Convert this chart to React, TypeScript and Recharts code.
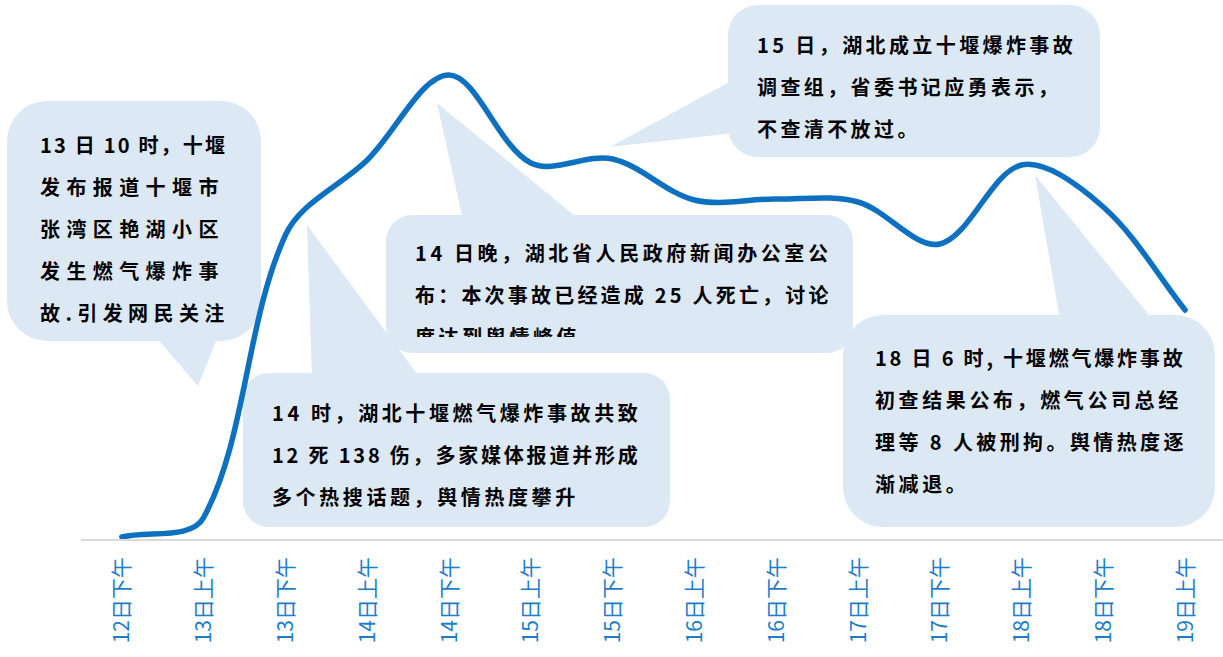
import React from 'react';
import { LineChart, Line, XAxis, YAxis } from 'recharts';

// 时间段（横轴）
const periods = [
  '12日下午', '13日上午', '13日下午', '14日上午', '14日下午', '15日上午', '15日下午',
  '16日上午', '16日下午', '17日上午', '17日下午', '18日上午', '18日下午', '19日上午',
];

// 舆情热度（估读）
const heat = [0.6, 4.5, 61, 76, 93, 75.4, 76.2, 68, 68.2, 67.6, 59.2, 75, 66.6, 46];

// 气泡文字
const noteA = ['13 日 10 时，十堰', '发布报道十堰市', '张湾区艳湖小区', '发生燃气爆炸事', '故.引发网民关注'];
const noteB = ['14 时，湖北十堰燃气爆炸事故共致', '12 死 138 伤，多家媒体报道并形成', '多个热搜话题，舆情热度攀升'];
const noteC = ['14 日晚，湖北省人民政府新闻办公室公', '布：本次事故已经造成 25 人死亡，讨论', '度达到舆情峰值'];
const noteD = ['15 日，湖北成立十堰爆炸事故', '调查组，省委书记应勇表示，', '不查清不放过。'];
const noteE = ['18 日 6 时, 十堰燃气爆炸事故', '初查结果公布，燃气公司总经', '理等 8 人被刑拘。舆情热度逐', '渐减退。'];

const data = periods.map((p, i) => ({ period: p, heat: heat[i] }));

const BUBBLE = '#DDE8F5';
const LINE = '#0E70C0';
const FONT = '"Noto Sans CJK SC", "Noto Sans", sans-serif';

const dist = (a: number[], b: number[]) => Math.hypot(b[0] - a[0], b[1] - a[1]);

// Excel 风格平滑曲线（按段长加权的 Bezier）
const smooth = (context: any) => {
  let pts: number[][] = [];
  return {
    areaStart() {},
    areaEnd() {},
    lineStart() {
      pts = [];
    },
    point(x: number, y: number) {
      pts.push([+x, +y]);
    },
    lineEnd() {
      if (!pts.length) return;
      context.moveTo(pts[0][0], pts[0][1]);
      for (let i = 0; i < pts.length - 1; i++) {
        const p0 = pts[i - 1] || pts[i];
        const p1 = pts[i];
        const p2 = pts[i + 1];
        const p3 = pts[i + 2] || p2;
        const d01 = dist(p0, p1);
        const d12 = dist(p1, p2);
        const d23 = dist(p2, p3);
        const f1 = d01 + d12 > 0 ? (2 * d12) / (d01 + d12) / 6 : 0;
        const f2 = d12 + d23 > 0 ? (2 * d12) / (d12 + d23) / 6 : 0;
        context.bezierCurveTo(
          p1[0] + (p2[0] - p0[0]) * f1,
          p1[1] + (p2[1] - p0[1]) * f1,
          p2[0] - (p3[0] - p1[0]) * f2,
          p2[1] - (p3[1] - p1[1]) * f2,
          p2[0],
          p2[1],
        );
      }
    },
  };
};

const Tick = ({ x, y, payload }: any) => (
  <g transform={`translate(${x},${y + 17}) rotate(-90)`}>
    <text x={0} y={0} dy="0.36em" textAnchor="end" fill="#1E7CCB" fontSize={21} fontFamily={FONT}>
      {payload.value}
    </text>
  </g>
);

const Bubble = ({ x, y, w, h, r, tail }: any) => (
  <g>
    <rect x={x} y={y} width={w} height={h} rx={r} ry={r} fill={BUBBLE} />
    <polygon points={tail} fill={BUBBLE} />
  </g>
);

const Note = ({ lines, left, top, spacing = 3.6, clip }: any) => (
  <div
    style={{
      position: 'absolute',
      left,
      top,
      height: clip,
      overflow: clip ? 'hidden' : 'visible',
      fontFamily: FONT,
      fontWeight: 700,
      fontSize: 20,
      lineHeight: '42px',
      color: '#000',
      whiteSpace: 'pre',
    }}
  >
    {lines.map((l: string, i: number) => (
      <div key={l} style={{ letterSpacing: Array.isArray(spacing) ? spacing[i] : spacing }}>
        {l}
      </div>
    ))}
  </div>
);

export default function App() {
  return (
    <div style={{ position: 'absolute', left: 0, top: 0, width: 1223, height: 657, overflow: 'hidden', background: '#fff' }}>
      <svg width={1223} height={657} style={{ position: 'absolute', left: 0, top: 0 }}>
        <Bubble x={7} y={101} w={254} h={240} r={40} tail="155,336 198,386 218,336" />
        <Bubble x={243} y={373} w={427} h={154} r={26} tail="312,378 307,225 420,378" />
        <Bubble x={386} y={215} w={467} h={138} r={26} tail="463,220 437,103 580,220" />
        <Bubble x={728} y={5} w={372} h={152} r={30} tail="733,80 610,147 733,133" />
        <Bubble x={843} y={315} w={372} h={212} r={40} tail="1060,320 1035,175 1153,320" />
      </svg>
      <Note lines={noteA} left={40} top={124} spacing={[2.2, 6.4, 6.4, 6.4, 5.4]} />
      <Note lines={noteB} left={272} top={392} spacing={[3.6, 2.8, 3.6]} />
      <Note lines={noteC} left={415} top={232} clip={105} spacing={[3.6, 3.2, 3.6]} />
      <Note lines={noteD} left={757} top={24} spacing={3.4} />
      <Note lines={noteE} left={875} top={337} spacing={[2.8, 3.6, 3.4, 3.6]} />
      <div style={{ position: 'absolute', left: 0, top: 0 }}>
        <LineChart width={1226} height={657} data={data} margin={{ top: 40, right: 0, bottom: 0, left: 81 }}>
          <XAxis
            dataKey="period"
            scale="band"
            interval={0}
            height={117}
            tickSize={0}
            tickMargin={0}
            tickLine={false}
            axisLine={{ stroke: '#D9D9D9', strokeWidth: 2 }}
            tick={<Tick />}
          />
          <YAxis hide domain={[0, 100]} />
          <Line
            dataKey="heat"
            type={smooth as any}
            stroke={LINE}
            strokeWidth={5.5}
            strokeLinecap="round"
            dot={false}
            activeDot={false}
            isAnimationActive={false}
          />
        </LineChart>
      </div>
    </div>
  );
}
